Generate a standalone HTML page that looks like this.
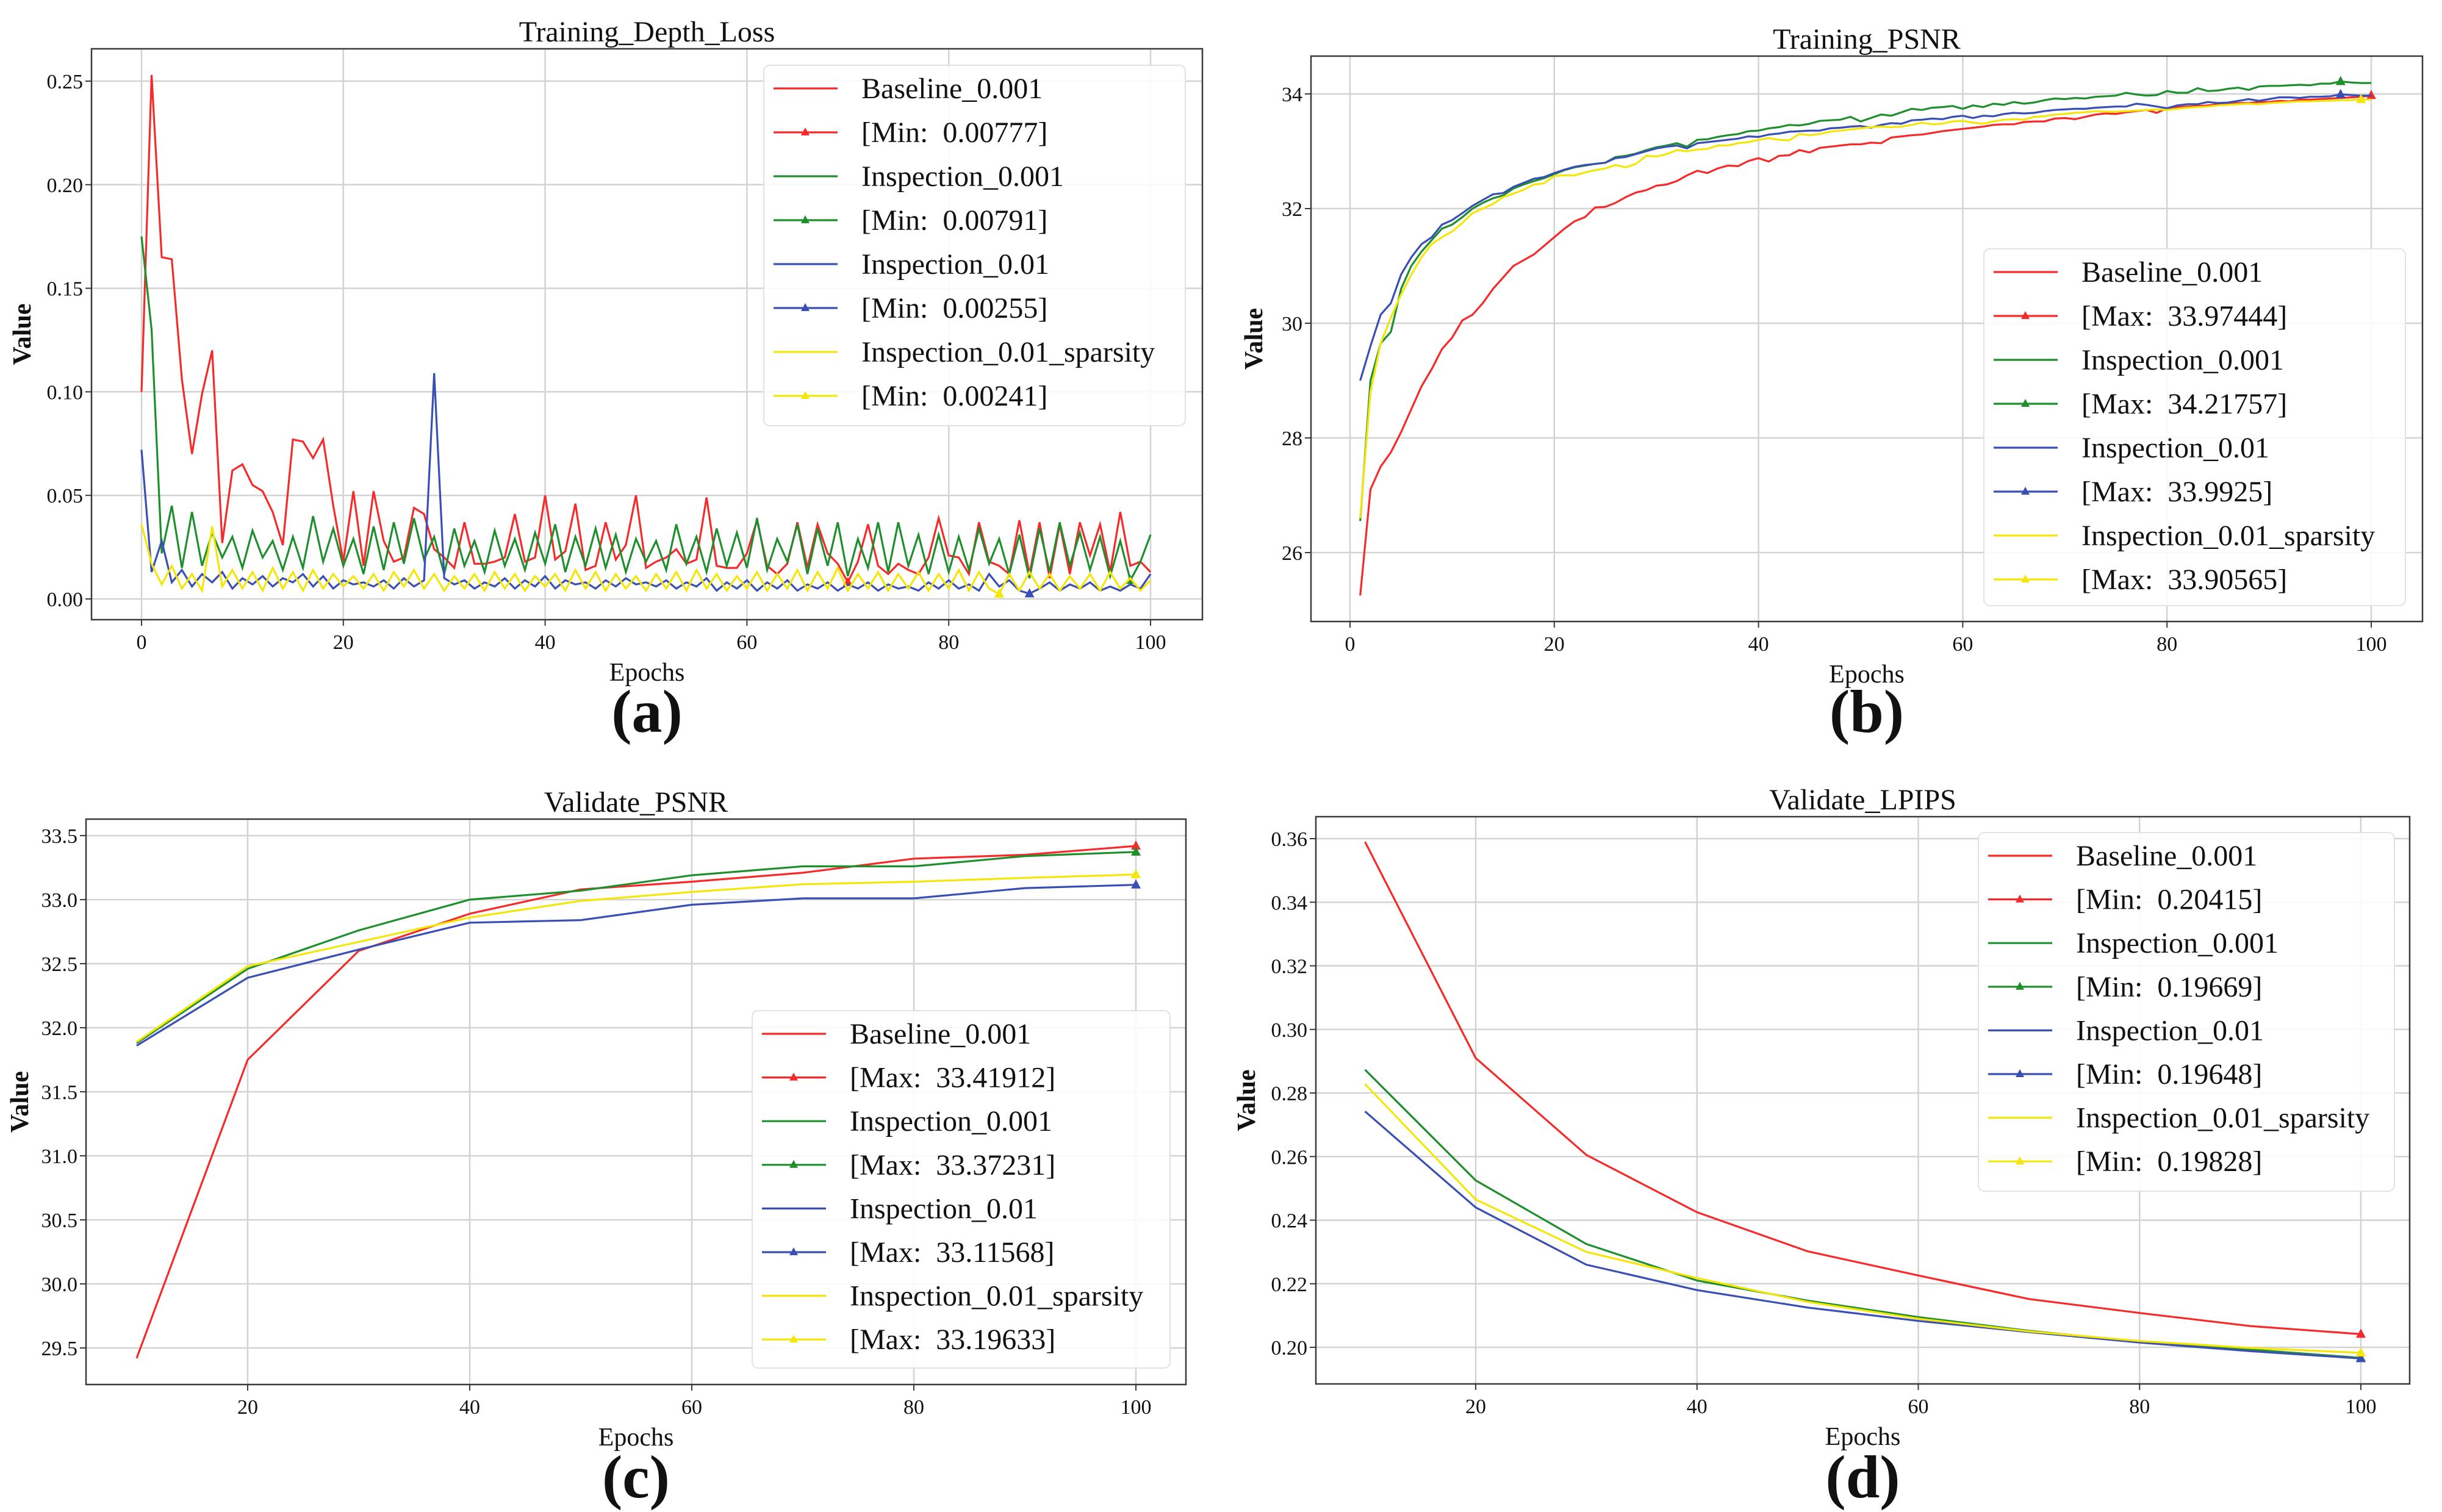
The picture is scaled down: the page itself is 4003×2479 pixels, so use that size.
<!DOCTYPE html>
<html><head><meta charset="utf-8"><style>
html,body{margin:0;padding:0;background:#fff;}
svg{display:block;font-family:"Liberation Serif","DejaVu Serif",serif;}
.pre{white-space:pre;}
</style></head><body>
<svg id="fig" width="4003" height="2479" viewBox="0 0 4003 2479" xmlns="http://www.w3.org/2000/svg"></svg>
<script>
// ---------- data ----------
const seriesNames = ["Baseline_0.001","Inspection_0.001","Inspection_0.01","Inspection_0.01_sparsity"];
const seriesColors = ["#f52a2a","#1f8f2e","#3a4fb4","#f5e60a"];

// (a) Training_Depth_Loss, epochs 0..100
const aRed = [0.10,0.253,0.165,0.164,0.106,0.070,0.099,0.120,0.027,0.062,0.065,0.055,0.052,0.042,0.026,0.077,0.076,0.068,0.077,0.045,0.018,0.052,0.016,0.052,0.028,0.018,0.020,0.044,0.041,0.024,0.020,0.015,0.037,0.017,0.017,0.018,0.020,0.041,0.018,0.020,0.050,0.019,0.023,0.046,0.014,0.016,0.037,0.019,0.026,0.050,0.015,0.018,0.020,0.024,0.017,0.019,0.049,0.016,0.015,0.015,0.022,0.038,0.016,0.012,0.017,0.037,0.015,0.036,0.022,0.017,0.008,0.018,0.036,0.016,0.012,0.017,0.014,0.012,0.020,0.039,0.021,0.020,0.012,0.037,0.018,0.016,0.012,0.038,0.012,0.037,0.010,0.036,0.012,0.037,0.021,0.036,0.013,0.042,0.016,0.018,0.013];
const aGreen = [0.175,0.130,0.022,0.045,0.015,0.042,0.016,0.032,0.020,0.030,0.015,0.033,0.020,0.028,0.014,0.030,0.015,0.040,0.018,0.034,0.016,0.029,0.012,0.035,0.014,0.037,0.017,0.039,0.019,0.030,0.012,0.034,0.016,0.028,0.013,0.033,0.016,0.029,0.014,0.032,0.017,0.036,0.013,0.030,0.016,0.034,0.015,0.031,0.013,0.029,0.018,0.028,0.014,0.036,0.017,0.030,0.013,0.034,0.016,0.032,0.015,0.039,0.014,0.029,0.018,0.036,0.012,0.034,0.016,0.037,0.011,0.029,0.015,0.037,0.013,0.037,0.016,0.031,0.012,0.031,0.013,0.030,0.014,0.034,0.017,0.029,0.012,0.031,0.010,0.034,0.013,0.037,0.016,0.032,0.014,0.030,0.011,0.028,0.009,0.018,0.031];
const aBlue = [0.072,0.013,0.028,0.008,0.014,0.006,0.012,0.008,0.013,0.005,0.010,0.007,0.011,0.006,0.010,0.008,0.012,0.006,0.011,0.005,0.009,0.007,0.008,0.006,0.009,0.005,0.010,0.006,0.009,0.109,0.010,0.007,0.009,0.005,0.008,0.006,0.010,0.005,0.009,0.006,0.011,0.005,0.009,0.007,0.008,0.005,0.009,0.006,0.010,0.007,0.008,0.006,0.009,0.005,0.008,0.006,0.010,0.004,0.008,0.005,0.009,0.004,0.008,0.005,0.009,0.004,0.007,0.005,0.008,0.004,0.007,0.005,0.008,0.004,0.007,0.005,0.006,0.004,0.008,0.005,0.009,0.005,0.007,0.004,0.012,0.006,0.009,0.004,0.00255,0.005,0.008,0.004,0.007,0.005,0.008,0.004,0.006,0.004,0.007,0.005,0.012];
const aYellow = [0.036,0.017,0.007,0.016,0.005,0.012,0.004,0.035,0.006,0.014,0.005,0.013,0.004,0.015,0.005,0.013,0.004,0.014,0.005,0.012,0.006,0.011,0.005,0.012,0.004,0.013,0.006,0.014,0.005,0.012,0.004,0.011,0.005,0.012,0.004,0.013,0.005,0.012,0.004,0.011,0.006,0.012,0.004,0.014,0.005,0.013,0.004,0.012,0.005,0.011,0.004,0.012,0.005,0.013,0.004,0.014,0.005,0.012,0.004,0.011,0.005,0.013,0.004,0.012,0.005,0.014,0.004,0.013,0.005,0.015,0.004,0.012,0.005,0.013,0.004,0.012,0.005,0.013,0.004,0.012,0.005,0.014,0.004,0.013,0.005,0.00241,0.012,0.004,0.013,0.005,0.012,0.004,0.011,0.005,0.012,0.004,0.013,0.005,0.010,0.004,0.009];

// (b) Training_PSNR, epochs 1..100
const bRed = [25.25,27.1,27.5,27.75,28.1,28.5,28.9,29.2,29.55,29.75,30.05,30.15,30.35,30.6,30.8,31.0,31.1,31.2,31.35,31.5,31.65,31.78,31.85,32.02,32.03,32.1,32.2,32.28,32.32,32.4,32.42,32.48,32.58,32.66,32.62,32.7,32.75,32.74,32.83,32.88,32.82,32.92,32.93,33.02,32.98,33.06,33.08,33.1,33.12,33.12,33.15,33.14,33.24,33.26,33.28,33.29,33.32,33.35,33.37,33.39,33.41,33.43,33.46,33.47,33.47,33.51,33.52,33.52,33.57,33.58,33.56,33.6,33.64,33.66,33.65,33.68,33.7,33.72,33.67,33.75,33.77,33.78,33.79,33.8,33.82,33.83,33.84,33.84,33.86,33.86,33.88,33.87,33.9,33.9,33.91,33.92,33.93,33.94,33.95,33.97444];
const bGreen = [26.55,29.0,29.65,29.85,30.6,31.0,31.25,31.45,31.65,31.72,31.85,32.0,32.1,32.18,32.23,32.35,32.42,32.48,32.53,32.6,32.67,32.72,32.75,32.78,32.8,32.9,32.92,32.96,33.02,33.07,33.1,33.14,33.08,33.2,33.21,33.25,33.28,33.3,33.35,33.36,33.4,33.42,33.46,33.45,33.48,33.53,33.54,33.55,33.6,33.52,33.58,33.64,33.62,33.68,33.74,33.72,33.76,33.77,33.79,33.74,33.8,33.77,33.83,33.81,33.86,33.83,33.85,33.89,33.92,33.91,33.93,33.92,33.95,33.96,33.97,34.02,33.99,33.97,33.98,34.05,34.02,34.02,34.1,34.05,34.06,34.09,34.11,34.07,34.13,34.14,34.14,34.15,34.16,34.15,34.18,34.18,34.21757,34.2,34.19,34.19];
const bBlue = [29.0,29.6,30.15,30.35,30.85,31.15,31.38,31.5,31.72,31.8,31.92,32.05,32.15,32.25,32.27,32.38,32.45,32.52,32.55,32.62,32.68,32.73,32.76,32.78,32.8,32.88,32.9,32.95,33.0,33.05,33.08,33.1,33.05,33.14,33.16,33.18,33.2,33.22,33.26,33.25,33.29,33.31,33.34,33.35,33.36,33.36,33.4,33.41,33.43,33.44,33.41,33.46,33.49,33.48,33.54,33.55,33.57,33.56,33.6,33.62,33.58,33.62,33.61,33.65,33.67,33.66,33.67,33.7,33.72,33.73,33.74,33.74,33.76,33.77,33.78,33.78,33.83,33.81,33.78,33.75,33.8,33.82,33.82,33.86,33.84,33.85,33.88,33.91,33.88,33.91,33.94,33.94,33.93,33.95,33.95,33.96,33.9925,33.98,33.97,33.97];
const bYellow = [26.6,28.8,29.65,30.1,30.5,30.85,31.15,31.38,31.5,31.6,31.75,31.92,32.0,32.08,32.2,32.26,32.33,32.42,32.44,32.57,32.58,32.58,32.63,32.67,32.7,32.76,32.72,32.78,32.92,32.91,32.95,33.02,33.0,33.03,33.04,33.1,33.1,33.14,33.16,33.2,33.23,33.2,33.19,33.3,33.28,33.3,33.34,33.36,33.38,33.4,33.42,33.43,33.42,33.43,33.46,33.5,33.47,33.48,33.52,33.53,33.5,33.48,33.52,33.55,33.56,33.55,33.6,33.61,33.64,33.65,33.67,33.68,33.7,33.69,33.69,33.7,33.71,33.72,33.73,33.72,33.74,33.76,33.77,33.78,33.8,33.81,33.82,33.83,33.82,33.84,33.85,33.86,33.87,33.87,33.88,33.88,33.89,33.89,33.90565,33.9];

// (c) Validate_PSNR, epochs 10..100
const cEpochs = [10,20,30,40,50,60,70,80,90,100];
const cRed = [29.42,31.75,32.60,32.89,33.08,33.14,33.21,33.32,33.35,33.41912];
const cGreen = [31.88,32.46,32.76,33.00,33.07,33.19,33.26,33.26,33.34,33.37231];
const cBlue = [31.86,32.39,32.61,32.82,32.84,32.96,33.01,33.01,33.09,33.11568];
const cYellow = [31.89,32.48,32.67,32.86,32.99,33.06,33.12,33.14,33.17,33.19633];

// (d) Validate_LPIPS
const dRed = [0.359,0.291,0.2605,0.2425,0.2302,0.2226,0.2152,0.2108,0.2067,0.20415];
const dGreen = [0.2873,0.2525,0.2325,0.2210,0.2147,0.2095,0.2052,0.2017,0.1993,0.19669];
const dBlue = [0.2742,0.2440,0.2260,0.2180,0.2125,0.2083,0.2048,0.2015,0.1988,0.19648];
const dYellow = [0.2828,0.2465,0.2300,0.2218,0.2143,0.2090,0.2050,0.2020,0.1998,0.19828];

const aLegendVals = ["[Min:  0.00777]","[Min:  0.00791]","[Min:  0.00255]","[Min:  0.00241]"];
const bLegendVals = ["[Max:  33.97444]","[Max:  34.21757]","[Max:  33.9925]","[Max:  33.90565]"];
const cLegendVals = ["[Max:  33.41912]","[Max:  33.37231]","[Max:  33.11568]","[Max:  33.19633]"];
const dLegendVals = ["[Min:  0.20415]","[Min:  0.19669]","[Min:  0.19648]","[Min:  0.19828]"];

const xTicksA = [0,20,40,60,80,100];
const xTicksC = [20,40,60,80,100];
const yTicksA = [0,0.05,0.10,0.15,0.20,0.25];
const yTicksB = [26,28,30,32,34];
const yTicksC = [29.5,30.0,30.5,31.0,31.5,32.0,32.5,33.0,33.5];
const yTicksD = [0.20,0.22,0.24,0.26,0.28,0.30,0.32,0.34,0.36];

// ---------- drawing ----------
const NS = "http://www.w3.org/2000/svg";
const svg = document.getElementById("fig");
function mk(tag, attrs, parent){
  const e = document.createElementNS(NS, tag);
  for (const k in attrs) e.setAttribute(k, attrs[k]);
  (parent||svg).appendChild(e);
  return e;
}
function range(a,n){const r=[];for(let i=0;i<n;i++)r.push(a+i);return r;}

function panel(p){
  const g = mk("g",{});
  
  
  const sx = v => p.x0px + (v - p.x0v) * (p.x1px - p.x0px) / (p.x1v - p.x0v);
  const sy = v => p.y0px + (v - p.y0v) * (p.y1px - p.y0px) / (p.y1v - p.y0v);
  p.xTicks.forEach(t=>{
    const l = mk("line",{x1:sx(t),x2:sx(t),y1:p.top,y2:p.bottom,stroke:"#d3d3d3","stroke-width":2.5},g);
    
    
  });
  p.yTicks.forEach(t=>{
    const l = mk("line",{x1:p.left,x2:p.right,y1:sy(t),y2:sy(t),stroke:"#d3d3d3","stroke-width":2.5},g);
    
    
  });
  p.series.forEach((s,i)=>{
    const pts = s.map((v,j)=> sx(p.xs[j]).toFixed(1)+","+sy(v).toFixed(1)).join(" ");
    const pl = mk("polyline",{points:pts,fill:"none",stroke:seriesColors[i],"stroke-width":3.2,"stroke-linejoin":"miter"},g);
    
    
    let idx=0;
    s.forEach((v,j)=>{ if(p.mode==="min" ? v < s[idx] : v > s[idx]) idx=j; });
    const cx=sx(p.xs[idx]), cy=sy(s[idx]);
    const m = mk("polygon",{points:`${cx},${cy-9} ${cx-8},${cy+6} ${cx+8},${cy+6}`,fill:seriesColors[i]},g);
    
    
  });
  const fr = mk("rect",{x:p.left,y:p.top,width:p.right-p.left,height:p.bottom-p.top,fill:"none",stroke:"#3a3a3a","stroke-width":2.5},g);
  
  
  p.xTicks.forEach(t=>{
    mk("line",{x1:sx(t),x2:sx(t),y1:p.bottom,y2:p.bottom+10,stroke:"#3a3a3a","stroke-width":2},g);
    const tx = mk("text",{x:sx(t),y:p.bottom+48,"font-size":34,"text-anchor":"middle",fill:"#111"},g);
    tx.textContent = t;
    
    
  });
  p.yTicks.forEach(t=>{
    mk("line",{x1:p.left-10,x2:p.left,y1:sy(t),y2:sy(t),stroke:"#3a3a3a","stroke-width":2},g);
    const tx = mk("text",{x:p.left-14,y:sy(t)+12,"font-size":34,"text-anchor":"end",fill:"#111"},g);
    tx.textContent = t.toFixed(p.yDec);
    
    
  });
  const cxm=(p.left+p.right)/2;
  const ti = mk("text",{x:cxm,y:p.top-12,"font-size":48,"text-anchor":"middle",fill:"#111"},g);
  ti.textContent=p.title;
  
  
  const xl = mk("text",{x:cxm,y:p.bottom+100,"font-size":42,"text-anchor":"middle",fill:"#111"},g);
  xl.textContent="Epochs";
  
  
  const ym=(p.top+p.bottom)/2;
  const yl = mk("text",{x:p.left-p.ylOff,y:ym,"font-size":42,"font-weight":"bold","text-anchor":"middle",fill:"#111",transform:`rotate(-90 ${p.left-p.ylOff} ${ym})`},g);
  yl.textContent="Value";
  
  
  const fl = mk("text",{x:cxm,y:p.figLabelY,"font-size":100,"font-weight":"bold","text-anchor":"middle",fill:"#111"},g);
  fl.textContent=p.figLabel;
  
  
  const lg = mk("g",{},g);
  
  
  mk("rect",{x:p.lg.x,y:p.lg.y,width:p.lg.w,height:p.lg.h,rx:10,fill:"#fff","fill-opacity":0.85,stroke:"#e2e2e2","stroke-width":2},lg);
  for(let r=0;r<8;r++){
    const si=Math.floor(r/2);
    const yy=p.lg.y+38+r*p.lg.step;
    mk("line",{x1:p.lg.x+16,x2:p.lg.x+121,y1:yy,y2:yy,stroke:seriesColors[si],"stroke-width":3.2},lg);
    if(r%2===1){
      const c=p.lg.x+68;
      mk("polygon",{points:`${c},${yy-8} ${c-7},${yy+5} ${c+7},${yy+5}`,fill:seriesColors[si]},lg);
    }
    const t = mk("text",{x:p.lg.x+160,y:yy+16,"font-size":48,fill:"#111","class":"pre"},lg);
    t.textContent = r%2===0 ? seriesNames[si] : p.legendVals[si];
    
    
  }
}

panel({id:"training-depth-loss",title:"Training_Depth_Loss",figLabel:"(a)",figLabelY:1200,
  left:150,right:1971,top:80,bottom:1016,x0v:0,x0px:232,x1v:100,x1px:1886,y0v:0,y0px:982,y1v:0.25,y1px:133,
  xs:range(0,101),series:[aRed,aGreen,aBlue,aYellow],mode:"min",xTicks:xTicksA,yTicks:yTicksA,yDec:2,ylOff:100,
  legendVals:aLegendVals,lg:{x:1252,y:107,w:691,h:591,step:72}});
panel({id:"training-psnr",title:"Training_PSNR",figLabel:"(b)",figLabelY:1200,
  left:2149,right:3971,top:92,bottom:1019,x0v:0,x0px:2213,x1v:100,x1px:3887,y0v:26,y0px:906,y1v:34,y1px:154,
  xs:range(1,100),series:[bRed,bGreen,bBlue,bYellow],mode:"max",xTicks:xTicksA,yTicks:yTicksB,yDec:0,ylOff:80,
  legendVals:bLegendVals,lg:{x:3252,y:408,w:691,h:585,step:72}});
panel({id:"validate-psnr",title:"Validate_PSNR",figLabel:"(c)",figLabelY:2455,
  left:141,right:1944,top:1343,bottom:2270,x0v:20,x0px:406,x1v:100,x1px:1862,y0v:29.5,y0px:2210,y1v:33.5,y1px:1370,
  xs:cEpochs,series:[cRed,cGreen,cBlue,cYellow],mode:"max",xTicks:xTicksC,yTicks:yTicksC,yDec:1,ylOff:95,
  legendVals:cLegendVals,lg:{x:1233,y:1657,w:685,h:586,step:71.6}});
panel({id:"validate-lpips",title:"Validate_LPIPS",figLabel:"(d)",figLabelY:2455,
  left:2157,right:3950,top:1339,bottom:2269,x0v:20,x0px:2419,x1v:100,x1px:3870,y0v:0.20,y0px:2209,y1v:0.36,y1px:1375,
  xs:cEpochs,series:[dRed,dGreen,dBlue,dYellow],mode:"min",xTicks:xTicksC,yTicks:yTicksD,yDec:2,ylOff:100,
  legendVals:dLegendVals,lg:{x:3243,y:1365,w:682,h:588,step:71.6}});
</script>
</body></html>
